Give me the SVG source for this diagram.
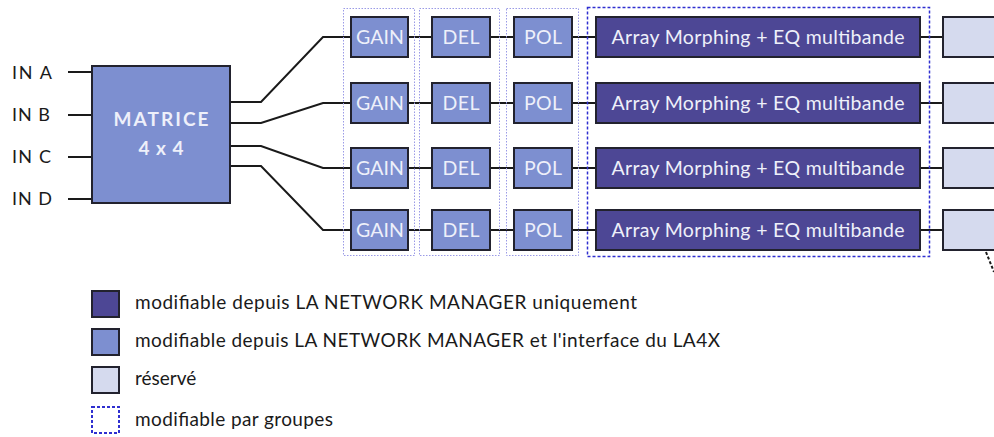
<svg xmlns="http://www.w3.org/2000/svg" width="994" height="437" viewBox="0 0 994 437">
<style>
  text { font-family: Lato, "Open Sans", "DejaVu Sans", sans-serif; }
  .lbl { font-size: 18px; fill: #1a1a1a; }
  .box { stroke: #22222e; stroke-width: 2; }
  .dark { fill: #4d4795; }
  .mid { fill: #7d8fd0; }
  .light { fill: #d5daee; }
  .bt { font-size: 19.5px; fill: #eef0fa; text-anchor: middle; }
  .wire { fill: none; stroke: #1a1a1a; stroke-width: 2; }
  .grp { fill: none; stroke: #9a9ae6; stroke-width: 1; stroke-dasharray: 1.5 1.5; }
  .grp2 { fill: none; stroke: #2f2fd0; stroke-width: 1.5; stroke-dasharray: 3 2; }
  .leg { font-size: 19px; fill: #1a1a1a; }
</style>

<g id="connectors">
  <path class="wire" d="M68 72H92M68 115H92M68 157H92M68 199H92"/>
  <path class="wire" d="M230 102H261L323 37H351"/>
  <path class="wire" d="M230 123H261L323 103H351"/>
  <path class="wire" d="M230 146H261L323 168H351"/>
  <path class="wire" d="M230 166H261L323 230H351"/>
  <path class="wire" d="M408 37H432M408 103H432M408 168H432M408 230H432"/>
  <path class="wire" d="M490 37H514M490 103H514M490 168H514M490 230H514"/>
  <path class="wire" d="M572 37H596M572 103H596M572 168H596M572 230H596"/>
  <path class="wire" d="M920 37H943M920 103H943M920 168H943M920 230H943"/>
  <path fill="none" stroke="#1a1a1a" stroke-width="2" stroke-dasharray="3 2" d="M986 252L994 272"/>
</g>

<g id="inputs">
  <text class="lbl" x="12" y="79" textLength="40">IN A</text>
  <text class="lbl" x="12" y="121" textLength="38">IN B</text>
  <text class="lbl" x="12" y="163" textLength="39">IN C</text>
  <text class="lbl" x="12" y="205" textLength="40">IN D</text>
</g>

<g id="matrice">
  <rect class="box mid" x="92" y="66" width="138" height="137"/>
  <text x="161" y="126" font-size="19" font-weight="bold" fill="#eef0fa" text-anchor="middle" textLength="95">MATRICE</text>
  <text x="161" y="155" font-size="19" font-weight="bold" fill="#eef0fa" text-anchor="middle" textLength="45">4 x 4</text>
</g>

<g id="groups">
  <rect class="grp" x="343.5" y="8.5" width="71" height="247"/>
  <rect class="grp" x="419.5" y="8.5" width="80" height="247"/>
  <rect class="grp" x="506.5" y="8.5" width="72" height="247"/>
  <rect class="grp2" x="587.5" y="7.5" width="342" height="249"/>
</g>

<g id="gain">
  <rect class="box mid" x="351" y="17" width="57" height="40"/><text class="bt" x="380" y="44" textLength="48">GAIN</text>
  <rect class="box mid" x="351" y="83" width="57" height="40"/><text class="bt" x="380" y="110" textLength="48">GAIN</text>
  <rect class="box mid" x="351" y="148" width="57" height="40"/><text class="bt" x="380" y="175" textLength="48">GAIN</text>
  <rect class="box mid" x="351" y="210" width="57" height="40"/><text class="bt" x="380" y="237" textLength="48">GAIN</text>
</g>

<g id="del">
  <rect class="box mid" x="432" y="17" width="58" height="40"/><text class="bt" x="461" y="44" textLength="37">DEL</text>
  <rect class="box mid" x="432" y="83" width="58" height="40"/><text class="bt" x="461" y="110" textLength="37">DEL</text>
  <rect class="box mid" x="432" y="148" width="58" height="40"/><text class="bt" x="461" y="175" textLength="37">DEL</text>
  <rect class="box mid" x="432" y="210" width="58" height="40"/><text class="bt" x="461" y="237" textLength="37">DEL</text>
</g>

<g id="pol">
  <rect class="box mid" x="514" y="17" width="58" height="40"/><text class="bt" x="543" y="44" textLength="38">POL</text>
  <rect class="box mid" x="514" y="83" width="58" height="40"/><text class="bt" x="543" y="110" textLength="38">POL</text>
  <rect class="box mid" x="514" y="148" width="58" height="40"/><text class="bt" x="543" y="175" textLength="38">POL</text>
  <rect class="box mid" x="514" y="210" width="58" height="40"/><text class="bt" x="543" y="237" textLength="38">POL</text>
</g>

<g id="array">
  <rect class="box dark" x="596" y="17" width="324" height="40"/><text class="bt" x="758" y="44" textLength="293">Array Morphing + EQ multibande</text>
  <rect class="box dark" x="596" y="83" width="324" height="40"/><text class="bt" x="758" y="110" textLength="293">Array Morphing + EQ multibande</text>
  <rect class="box dark" x="596" y="148" width="324" height="40"/><text class="bt" x="758" y="175" textLength="293">Array Morphing + EQ multibande</text>
  <rect class="box dark" x="596" y="210" width="324" height="40"/><text class="bt" x="758" y="237" textLength="293">Array Morphing + EQ multibande</text>
</g>

<g id="reserved">
  <rect class="box light" x="943" y="17" width="70" height="40"/>
  <rect class="box light" x="943" y="83" width="70" height="40"/>
  <rect class="box light" x="943" y="148" width="70" height="40"/>
  <rect class="box light" x="943" y="210" width="70" height="40"/>
</g>

<g id="legend">
  <rect class="box dark" x="92" y="291" width="27" height="26"/>
  <text class="leg" x="135" y="309" textLength="502">modifiable depuis LA NETWORK MANAGER uniquement</text>
  <rect class="box mid" x="92" y="329" width="27" height="26"/>
  <text class="leg" x="135" y="347" textLength="585">modifiable depuis LA NETWORK MANAGER et l'interface du LA4X</text>
  <rect class="box light" x="92" y="367" width="27" height="26"/>
  <text class="leg" x="135" y="385">réservé</text>
  <rect x="92" y="407" width="27" height="26" fill="none" stroke="#2f2fd0" stroke-width="2" stroke-dasharray="3 2"/>
  <text class="leg" x="135" y="426" textLength="198">modifiable par groupes</text>
</g>
</svg>
